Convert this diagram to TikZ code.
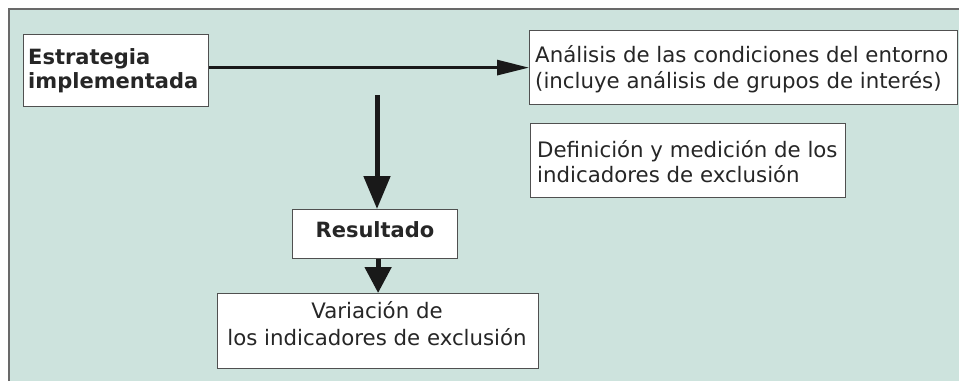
\documentclass[tikz,border=0pt]{standalone}
\usepackage{fontspec}
\setmainfont{DejaVu Sans}
\usetikzlibrary{arrows.meta}
\definecolor{bg}{RGB}{205,227,221}
\definecolor{frameln}{RGB}{105,105,105}
\definecolor{boxln}{RGB}{80,80,80}
\definecolor{arr}{RGB}{25,25,25}
\begin{document}
\begin{tikzpicture}[x=1pt,y=-1pt,
  box/.style={draw=boxln, line width=1.2pt, fill=white, anchor=north west, inner sep=0pt},
  txt/.style={inner sep=0pt, text=black!85, font=\fontsize{21.3}{25}\selectfont},
  bigarrow/.style={draw=arr, line width=5pt, -{Triangle[length=33pt,width=26pt]}},
  shortarrow/.style={draw=arr, line width=5pt, -{Triangle[length=26pt,width=26pt]}},
  thinarrow/.style={draw=arr, line width=3pt, -{Triangle[length=32pt,width=15pt]}}]
\useasboundingbox (0,0) rectangle (959,381);
\fill[white] (0,0) rectangle (959,381);
\fill[bg] (9,9) rectangle (959,381);
\draw[frameln, line width=1.6pt] (9,381) -- (9,9) -- (959,9);

% boxes
\node[box, minimum width=185pt, minimum height=72pt] (estr) at (23,34) {};
\node[box, minimum width=428pt, minimum height=74pt] (anal) at (529,30) {};
\node[box, minimum width=315pt, minimum height=74pt] (defi) at (530,123) {};
\node[box, minimum width=165pt, minimum height=49pt] (resu) at (292,209) {};
\node[box, minimum width=321pt, minimum height=75pt] (vari) at (217,293) {};

% texts (base anchor = baseline of last line)
\node[txt, anchor=base west, align=left, font=\bfseries\fontsize{21}{24}\selectfont] (estrt) at (28,88) {Estrategia\\implementada};
\node[txt, anchor=base west, align=left, font=\fontsize{21.3}{26}\selectfont] (analt) at (535,88) {Análisis de las condiciones del entorno\\(incluye análisis de grupos de interés)};
\node[txt, anchor=base west, align=left] (defit) at (537,182) {Definición y medición de los\\indicadores de exclusión};
\node[txt, anchor=base, font=\bfseries\fontsize{21}{25}\selectfont] (resut) at (375,237) {Resultado};
\node[txt, anchor=base, align=center, font=\fontsize{21.3}{27}\selectfont] (varit) at (377,345) {Variación de\\los indicadores de exclusión};

% connectors
\coordinate (vtop) at (377,95);
\draw[thinarrow] (estr.east |- anal.west) -- (anal.west);
\draw[bigarrow] (vtop) -- (vtop |- resu.north);
\draw[shortarrow] (resu.south -| vari.north) -- (vari.north);
\end{tikzpicture}
\end{document}
